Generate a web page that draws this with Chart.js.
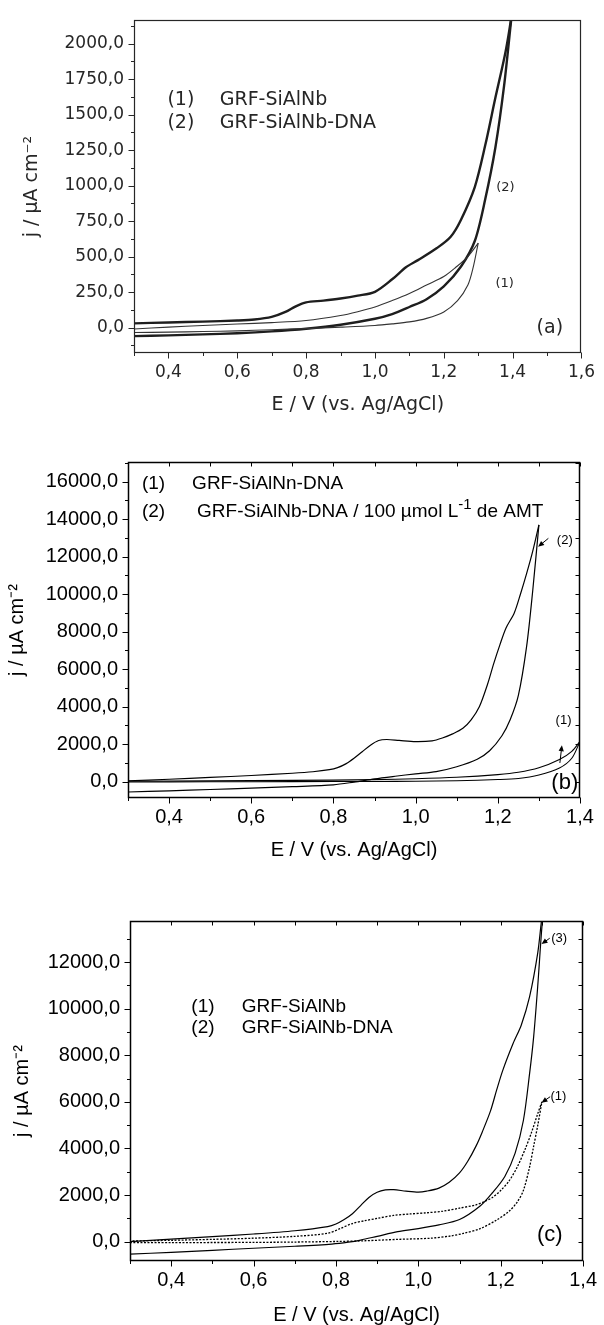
<!DOCTYPE html>
<html><head><meta charset="utf-8">
<script src="https://cdn.jsdelivr.net/npm/chart.js@4.4.1/dist/chart.umd.min.js"></script>
<style>
html,body{margin:0;padding:0;background:#fff;}
body{width:604px;height:1325px;position:relative;overflow:hidden;}
canvas{position:absolute;left:0;}
</style></head><body>
<canvas id="ca" width="604" height="425" style="top:0px;width:604px;height:425px"></canvas>
<canvas id="cb" width="604" height="440" style="top:430px;width:604px;height:440px"></canvas>
<canvas id="cc" width="604" height="445" style="top:880px;width:604px;height:445px"></canvas>
<script>
// ---------- data: [E (V vs Ag/AgCl), j (µA cm-2)] ----------
// Panel (a)
const a1Forward = [[0.30,-35],[0.40,-32],[0.50,-28],[0.60,-23],[0.70,-15],[0.80,-7],[0.90,3],[1.00,15],[1.05,26],[1.10,40],[1.15,65],[1.20,110],[1.24,190],[1.27,300],[1.285,420],[1.30,595]];
const a1Reverse = [[1.30,595],[1.27,500],[1.235,425],[1.20,360],[1.15,300],[1.10,240],[1.05,190],[1.00,145],[0.95,112],[0.90,85],[0.80,50],[0.70,35],[0.60,25],[0.50,15],[0.40,3],[0.30,-10]];
const a2Forward = [[0.30,-60],[0.40,-55],[0.50,-48],[0.60,-40],[0.70,-27],[0.80,-8],[0.90,20],[1.00,62],[1.05,95],[1.10,145],[1.15,200],[1.20,290],[1.25,430],[1.29,610],[1.32,900],[1.35,1270],[1.375,1700],[1.395,2150],[1.405,2380]];
const a2Reverse = [[1.405,2380],[1.40,2250],[1.38,1950],[1.35,1620],[1.32,1280],[1.29,990],[1.25,760],[1.22,640],[1.18,560],[1.125,475],[1.09,425],[1.05,340],[1.00,252],[0.95,225],[0.90,205],[0.85,190],[0.80,178],[0.77,150],[0.74,110],[0.70,75],[0.65,57],[0.60,50],[0.50,42],[0.40,36],[0.30,30]];
// Panel (b)
const b1Forward = [[0.30,-15],[0.50,-5],[0.70,5],[0.90,15],[1.00,25],[1.10,55],[1.20,115],[1.25,175],[1.30,360],[1.35,730],[1.38,1250],[1.40,2150]];
const b1Reverse = [[1.40,2150],[1.38,1620],[1.35,1180],[1.30,740],[1.25,500],[1.20,380],[1.10,240],[1.00,160],[0.90,110],[0.70,70],[0.50,45],[0.30,25]];
const b2Forward = [[0.30,-550],[0.40,-485],[0.50,-415],[0.60,-345],[0.70,-265],[0.80,-165],[0.85,-20],[0.90,150],[0.95,290],[1.00,420],[1.05,540],[1.10,800],[1.15,1200],[1.18,1650],[1.21,2450],[1.23,3300],[1.25,4600],[1.27,7200],[1.285,10200],[1.30,13700]];
const b2Reverse = [[1.30,13700],[1.285,12300],[1.27,11100],[1.255,10000],[1.24,9000],[1.22,8200],[1.205,7300],[1.19,6300],[1.175,5200],[1.155,4000],[1.135,3300],[1.115,2850],[1.09,2550],[1.065,2330],[1.04,2180],[1.00,2140],[0.96,2200],[0.93,2250],[0.91,2200],[0.89,1950],[0.87,1600],[0.85,1250],[0.83,950],[0.81,750],[0.79,640],[0.75,530],[0.70,450],[0.60,330],[0.50,230],[0.40,130],[0.30,50]];
// Panel (c)
const c3Forward = [[0.30,-530],[0.40,-460],[0.50,-370],[0.60,-280],[0.70,-195],[0.79,-100],[0.83,-20],[0.86,70],[0.90,230],[0.95,430],[1.00,560],[1.05,720],[1.10,950],[1.15,1530],[1.18,2100],[1.21,2800],[1.235,3800],[1.255,5200],[1.27,7200],[1.28,8800],[1.29,11000],[1.30,13500],[1.306,14400]];
const c3Reverse = [[1.306,14400],[1.30,13900],[1.29,12400],[1.27,10500],[1.25,9300],[1.23,8500],[1.205,7350],[1.19,6500],[1.175,5600],[1.155,4700],[1.14,4100],[1.12,3450],[1.10,2950],[1.075,2550],[1.05,2300],[1.02,2170],[1.00,2130],[0.97,2170],[0.94,2230],[0.92,2220],[0.90,2120],[0.88,1900],[0.86,1550],[0.84,1200],[0.82,950],[0.80,760],[0.78,650],[0.70,470],[0.60,330],[0.50,220],[0.40,110],[0.30,0]];
const c1Forward = [[0.30,-40],[0.40,-38],[0.50,-35],[0.60,-30],[0.70,-15],[0.80,10],[0.87,40],[0.95,100],[1.03,150],[1.08,250],[1.11,360],[1.15,560],[1.19,930],[1.22,1300],[1.24,1700],[1.255,2200],[1.27,3200],[1.28,4100],[1.29,5000],[1.30,6000]];
const c1Reverse = [[1.30,6000],[1.29,5500],[1.275,4700],[1.26,4000],[1.24,3200],[1.22,2600],[1.20,2200],[1.18,1900],[1.16,1720],[1.14,1580],[1.10,1440],[1.06,1310],[1.02,1240],[0.98,1190],[0.94,1130],[0.90,1000],[0.87,900],[0.84,780],[0.81,560],[0.78,360],[0.70,230],[0.60,150],[0.50,100],[0.40,60],[0.30,30]];

// axis ranges and label steps
const aRangeE = [0.3, 1.6], aRangeJ = [-179, 2165], aMajorJ = 250, aMinorJ = 125;
const bRangeE = [0.3, 1.4], bRangeJ = [-869, 17051], bMajorJ = 2000, bMinorJ = 1000;
const cRangeE = [0.3, 1.4], cRangeJ = [-828, 13759], cMajorJ = 2000, cMinorJ = 1000;
const minorE = 0.1, majorE = 0.2;
const xTitle = 'E / V (vs. Ag/AgCl)';
const yTitle = 'j / \u00B5A cm\u207B\u00B2';

// ---------- plugins ----------
const framePlugin = {
  id: 'frame',
  afterDraw(chart, args, o) {
    const {ctx, chartArea: a} = chart;
    const xs = chart.scales.x, ys = chart.scales.y;
    ctx.save();
    ctx.strokeStyle = o.color;
    ctx.lineWidth = o.width;
    const L = Math.round(a.left) + 0.5, T = Math.round(a.top) + 0.5, R = Math.round(a.right) - 0.5, B = Math.round(a.bottom) - 0.5;
    ctx.strokeRect(L, T, R - L, B - T);
    ctx.lineWidth = o.tickWidth;
    ctx.beginPath();
    xs.ticks.forEach(t => {
      const p = Math.round(xs.getPixelForValue(t.value)) + 0.5;
      const len = t.label !== '' ? o.major : o.minor;
      ctx.moveTo(p, B); ctx.lineTo(p, B + len);
      if (o.mirror) { ctx.moveTo(p, T); ctx.lineTo(p, T + o.inner); }
    });
    ys.ticks.forEach(t => {
      const p = Math.round(ys.getPixelForValue(t.value)) + 0.5;
      const len = t.label !== '' ? o.major : o.minor;
      ctx.moveTo(L, p); ctx.lineTo(L - len, p);
      if (o.mirror) { ctx.moveTo(R, p); ctx.lineTo(R - o.inner, p); }
    });
    ctx.stroke();
    ctx.restore();
  }
};

const notesPlugin = {
  id: 'notes',
  afterDraw(chart, args, o) {
    const ctx = chart.ctx, xs = chart.scales.x, ys = chart.scales.y;
    ctx.save();
    ctx.fillStyle = o.color; ctx.strokeStyle = o.color;
    ctx.textBaseline = 'middle'; ctx.textAlign = 'left';
    (o.texts || []).forEach(n => {
      let x = xs.getPixelForValue(n.E);
      const y = ys.getPixelForValue(n.j);
      const parts = n.parts || [{t: n.text}];
      let total = 0;
      parts.forEach(p => { ctx.font = (p.size || n.size) + 'px ' + o.family; total += ctx.measureText(p.t).width; });
      if (n.align === 'center') x -= total / 2;
      parts.forEach(p => {
        ctx.font = (p.size || n.size) + 'px ' + o.family;
        ctx.fillText(p.t, x, y - (p.rise || 0));
        x += ctx.measureText(p.t).width;
      });
    });
    (o.arrows || []).forEach(ar => {
      const x1 = xs.getPixelForValue(ar.from[0]), y1 = ys.getPixelForValue(ar.from[1]);
      const x2 = xs.getPixelForValue(ar.to[0]), y2 = ys.getPixelForValue(ar.to[1]);
      const ang = Math.atan2(y2 - y1, x2 - x1);
      const hl = 6, hw = 2.6;
      ctx.lineWidth = 1;
      ctx.beginPath(); ctx.moveTo(x1, y1); ctx.lineTo(x2 - Math.cos(ang) * hl * 0.7, y2 - Math.sin(ang) * hl * 0.7); ctx.stroke();
      ctx.beginPath();
      ctx.moveTo(x2, y2);
      ctx.lineTo(x2 - Math.cos(ang) * hl - Math.sin(ang) * hw, y2 - Math.sin(ang) * hl + Math.cos(ang) * hw);
      ctx.lineTo(x2 - Math.cos(ang) * hl + Math.sin(ang) * hw, y2 - Math.sin(ang) * hl - Math.cos(ang) * hw);
      ctx.closePath(); ctx.fill();
    });
    ctx.restore();
  }
};

function pts(arr) { return arr.map(([x, y]) => ({x, y})); }
function stepTicks(min, max, step) {
  const out = [];
  const n0 = Math.ceil(min / step - 1e-9), n1 = Math.floor(max / step + 1e-9);
  for (let n = n0; n <= n1; n++) out.push({value: +(n * step).toFixed(6)});
  return out;
}
function xLabel(v) { const k = Math.round(v / minorE); return k % Math.round(majorE / minorE) === 0 ? (k * minorE).toFixed(1).replace('.', ',') : ''; }
function yLabeler(major) { return v => { const k = Math.round(v); return (k % major === 0 && k >= 0) ? k.toFixed(1).replace('.', ',') : ''; }; }

function makePanel(id, p) {
  const datasets = p.series.map(s => ({
    data: pts(s.data), showLine: true, pointRadius: 0, pointHoverRadius: 0,
    borderColor: s.color, borderWidth: s.width, borderDash: s.dash || [], tension: 0.3, fill: false
  }));
  return new Chart(document.getElementById(id), {
    type: 'scatter',
    data: {datasets},
    plugins: [framePlugin, notesPlugin],
    options: {
      responsive: false, animation: false, devicePixelRatio: 1,
      layout: {padding: {top: p.padTop, right: p.padRight, left: 0, bottom: 0}},
      plugins: {
        legend: {display: false}, tooltip: {enabled: false},
        frame: {color: p.color, width: p.frameWidth, tickWidth: 1, major: 6, minor: 3.5, inner: 4, mirror: p.mirror},
        notes: {color: p.color, family: p.family, texts: p.texts, arrows: p.arrows}
      },
      scales: {
        x: {
          type: 'linear', position: 'bottom', min: p.rangeE[0], max: p.rangeE[1],
          grid: {display: false, drawTicks: false}, border: {display: false},
          ticks: {autoSkip: false, maxRotation: 0, padding: p.xTickPad, color: p.color,
                  font: {family: p.family, size: p.tickSize}, callback: xLabel},
          afterBuildTicks: s => { s.ticks = stepTicks(p.rangeE[0], p.rangeE[1], minorE); },
          title: {display: true, text: xTitle, color: p.color, font: {family: p.family, size: p.titleSize, lineHeight: 1},
                  padding: {top: 0, bottom: p.xTitlePad}},
          afterFit: s => { s.height = p.xHeight; }
        },
        y: {
          type: 'linear', position: 'left', min: p.rangeJ[0], max: p.rangeJ[1],
          grid: {display: false, drawTicks: false}, border: {display: false},
          ticks: {autoSkip: false, padding: 10, color: p.color,
                  font: {family: p.family, size: p.tickSize}, callback: yLabeler(p.majorJ)},
          afterBuildTicks: s => { s.ticks = stepTicks(p.rangeJ[0], p.rangeJ[1], p.minorJ); },
          title: {display: true, text: yTitle, color: p.color, font: {family: p.family, size: p.titleSize, lineHeight: 1},
                  padding: {top: p.yTitlePad, bottom: 0}},
          afterFit: s => { s.width = p.yWidth; }
        }
      }
    }
  });
}

// ---------- panel (a) ----------
makePanel('ca', {
  family: '"DejaVu Sans", sans-serif', color: '#262626', frameWidth: 1.2, mirror: false,
  tickSize: 17, titleSize: 19, xTickPad: 9, xTitlePad: 10.5, yTitlePad: 22.5,
  padTop: 13, padRight: 16, yWidth: 134, xHeight: 72,
  rangeE: aRangeE, rangeJ: aRangeJ, majorJ: aMajorJ, minorJ: aMinorJ,
  series: [
    {data: a1Forward, color: '#333', width: 1.1},
    {data: a1Reverse, color: '#333', width: 1.1},
    {data: a2Forward, color: '#1e1e1e', width: 2.4},
    {data: a2Reverse, color: '#1e1e1e', width: 2.4}
  ],
  texts: [
    {E: 0.397, j: 1600, text: '(1)', size: 19},
    {E: 0.549, j: 1600, text: 'GRF-SiAlNb', size: 19},
    {E: 0.397, j: 1441, text: '(2)', size: 19},
    {E: 0.549, j: 1441, text: 'GRF-SiAlNb-DNA', size: 19},
    {E: 1.379, j: 986, text: '(2)', size: 13, align: 'center'},
    {E: 1.377, j: 310, text: '(1)', size: 13, align: 'center'},
    {E: 1.508, j: 0, text: '(a)', size: 19, align: 'center'}
  ],
  arrows: []
});

// ---------- panel (b) ----------
makePanel('cb', {
  family: '"Liberation Sans", Arial, sans-serif', color: '#000', frameWidth: 1.5, mirror: true,
  tickSize: 20, titleSize: 20, xTickPad: 7, xTitlePad: 10, yTitlePad: 7,
  padTop: 32, padRight: 24, yWidth: 128, xHeight: 72,
  rangeE: bRangeE, rangeJ: bRangeJ, majorJ: bMajorJ, minorJ: bMinorJ,
  series: [
    {data: b1Forward, color: '#000', width: 1.1},
    {data: b1Reverse, color: '#000', width: 1.1},
    {data: b2Forward, color: '#000', width: 1.2},
    {data: b2Reverse, color: '#000', width: 1.2}
  ],
  texts: [
    {E: 0.334, j: 15915, text: '(1)', size: 19},
    {E: 0.456, j: 15915, text: 'GRF-SiAlNn-DNA', size: 19},
    {E: 0.334, j: 14400, text: '(2)', size: 19},
    {E: 0.468, j: 14400, size: 19, parts: [{t: 'GRF-SiAlNb-DNA / 100 \u00B5mol L'}, {t: '-1', size: 15, rise: 7}, {t: ' de AMT'}]},
    {E: 1.363, j: 12890, text: '(2)', size: 13, align: 'center'},
    {E: 1.360, j: 3290, text: '(1)', size: 13, align: 'center'},
    {E: 1.363, j: -90, text: '(b)', size: 22, align: 'center'}
  ],
  arrows: [
    {from: [1.323, 12980], to: [1.298, 12530]},
    {from: [1.351, 1000], to: [1.356, 1950]}
  ]
});

// ---------- panel (c) ----------
makePanel('cc', {
  family: '"Liberation Sans", Arial, sans-serif', color: '#000', frameWidth: 1.5, mirror: true,
  tickSize: 20, titleSize: 20, xTickPad: 7, xTitlePad: 0, yTitlePad: 12,
  padTop: 41, padRight: 17, yWidth: 130, xHeight: 64,
  rangeE: cRangeE, rangeJ: cRangeJ, majorJ: cMajorJ, minorJ: cMinorJ,
  series: [
    {data: c3Forward, color: '#000', width: 1.2},
    {data: c3Reverse, color: '#000', width: 1.2},
    {data: c1Forward, color: '#000', width: 1.3, dash: [2, 1.5]},
    {data: c1Reverse, color: '#000', width: 1.3, dash: [2, 1.5]}
  ],
  texts: [
    {E: 0.449, j: 10070, text: '(1)', size: 19},
    {E: 0.571, j: 10070, text: 'GRF-SiAlNb', size: 19},
    {E: 0.449, j: 9168, text: '(2)', size: 19},
    {E: 0.571, j: 9168, text: 'GRF-SiAlNb-DNA', size: 19},
    {E: 1.342, j: 13030, text: '(3)', size: 13, align: 'center'},
    {E: 1.340, j: 6220, text: '(1)', size: 13, align: 'center'},
    {E: 1.319, j: 287, text: '(c)', size: 22, align: 'center'}
  ],
  arrows: [
    {from: [1.319, 13020], to: [1.299, 12770]},
    {from: [1.320, 6220], to: [1.299, 5960]}
  ]
});
</script>
</body></html>
